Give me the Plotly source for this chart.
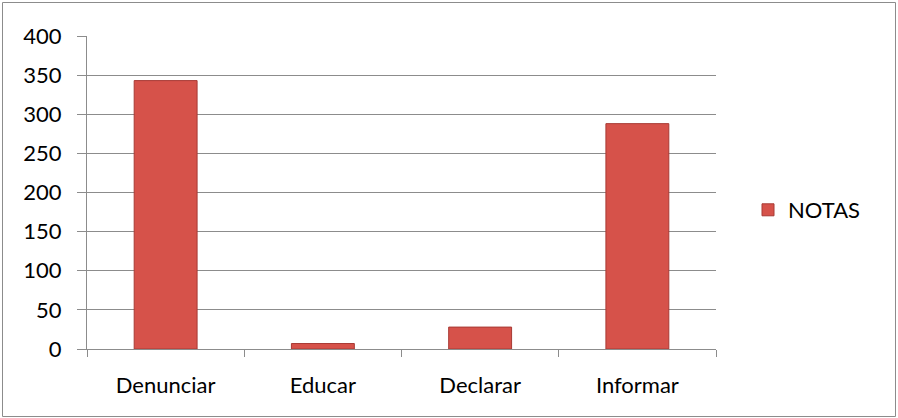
import plotly.graph_objects as go

categories = ["Denunciar", "Educar", "Declarar", "Informar"]
notas = [343, 7, 28, 288]
series_name = "NOTAS"
y_ticks = [0, 50, 100, 150, 200, 250, 300, 350, 400]

W, H = 898, 418
L, R, T, B = 87, 182, 36, 69
pw = W - L - R
ph = H - T - B

fig = go.Figure()
fig.add_trace(go.Bar(
    x=categories, y=notas, name=series_name,
    marker=dict(color="#D6524A", line=dict(color="#A83A34", width=1)),
    width=0.4, showlegend=True,
))

font = dict(family="Lato, Calibri, sans-serif", size=22, color="#000000")
fig.update_layout(
    width=W, height=H,
    margin=dict(l=L, r=R, t=T, b=B, autoexpand=False),
    paper_bgcolor="white", plot_bgcolor="white",
    font=font,
    showlegend=True,
    legend=dict(x=(748 - L) / pw, y=(349 - 210) / ph, xanchor="left", yanchor="middle",
                font=dict(family="Lato, Calibri, sans-serif", size=22), bgcolor="rgba(0,0,0,0)"),
    xaxis=dict(
        showgrid=False, showline=True, linecolor="#8c8c8c", linewidth=1,
        ticks="outside", tickson="boundaries", ticklen=7, tickcolor="#8c8c8c",
        tickfont=font, ticklabelstandoff=17,
    ),
    yaxis=dict(
        range=[0, 400], tickvals=y_ticks, showgrid=True, gridcolor="#8c8c8c", gridwidth=1,
        showline=True, linecolor="#8c8c8c", linewidth=1,
        ticks="outside", ticklen=9, tickcolor="#8c8c8c",
        tickfont=font, zeroline=False, ticklabelstandoff=11,
    ),
)

# outer chart border
fig.add_shape(type="rect", xref="paper", yref="paper",
              x0=(2.5 - L) / pw, x1=(895.5 - L) / pw,
              y0=(H - B - 416.5) / ph, y1=(H - B - 2.5) / ph,
              line=dict(color="#8c8c8c", width=1), fillcolor="rgba(0,0,0,0)", layer="below")

fig.write_html("out.html", config={"displayModeBar": False},
               post_script="document.body.style.margin='0px';document.body.style.overflow='hidden';")
